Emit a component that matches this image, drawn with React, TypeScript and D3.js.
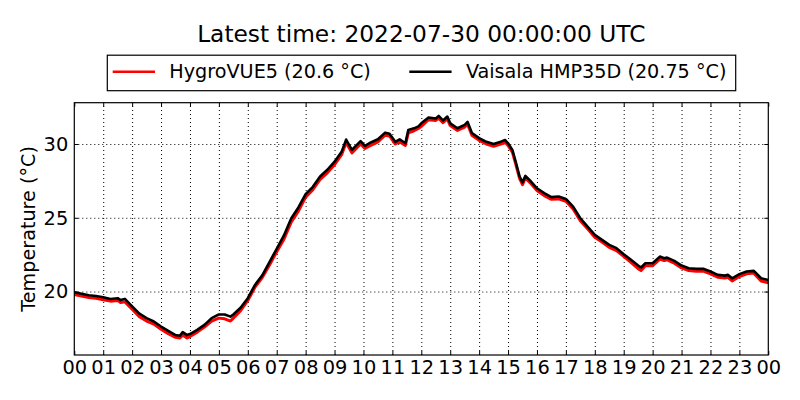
import { useEffect, useRef } from 'react';
import * as d3 from 'd3';

// hours since 00:00 UTC
const hours = [
  0, 0.25, 0.5, 0.75, 1.0, 1.25, 1.5, 1.6, 1.75, 2.0, 2.25, 2.5, 2.75, 3.0, 3.25, 3.5, 3.65, 3.75, 3.9, 4.0,
  4.25, 4.5, 4.75, 5.0, 5.2, 5.4, 5.5, 5.75, 6.0, 6.25, 6.5, 6.75, 7.0, 7.25, 7.5, 7.75, 8.0,
  8.25, 8.5, 8.75, 9.0, 9.25, 9.4, 9.6, 9.9, 10.05, 10.2, 10.5, 10.75, 10.9, 11.1, 11.25, 11.45, 11.55, 11.75, 11.9, 12.0,
  12.25, 12.5, 12.6, 12.75, 12.9, 13.0, 13.25, 13.5, 13.6, 13.75, 14.0, 14.25, 14.5, 14.75, 14.9, 15.0,
  15.15, 15.25, 15.4, 15.5, 15.6, 15.75, 16.0, 16.25, 16.5, 16.75, 17.0, 17.25, 17.5, 17.75, 18.0,
  18.25, 18.5, 18.75, 19.0, 19.25, 19.5, 19.6, 19.75, 20.0, 20.25, 20.4, 20.5, 20.75, 21.0,
  21.25, 21.5, 21.75, 22.0, 22.25, 22.5, 22.6, 22.75, 23.0, 23.25, 23.5, 23.75, 24.0,
];

const vaisala = [
  19.95, 19.85, 19.75, 19.7, 19.62, 19.5, 19.55, 19.42, 19.5, 19.0, 18.5, 18.2, 17.97, 17.63, 17.34, 17.05, 17.0, 17.25, 17.05, 17.12,
  17.4, 17.74, 18.2, 18.45, 18.45, 18.3, 18.45, 18.9, 19.55, 20.45, 21.1, 22.0, 22.9, 23.8, 24.95, 25.7, 26.6,
  27.1, 27.8, 28.25, 28.8, 29.5, 30.3, 29.6, 30.2, 29.87, 30.05, 30.32, 30.77, 30.7, 30.15, 30.32, 30.05, 30.95, 31.06, 31.2, 31.4,
  31.8, 31.73, 31.9, 31.6, 31.86, 31.4, 31.07, 31.3, 31.5, 30.75, 30.4, 30.15, 30.0, 30.16, 30.27, 30.05,
  29.6, 28.9, 27.8, 27.4, 27.84, 27.55, 27.0, 26.67, 26.4, 26.44, 26.28, 25.76, 24.97, 24.4, 23.84,
  23.5, 23.16, 22.94, 22.53, 22.15, 21.76, 21.63, 21.92, 21.92, 22.37, 22.26, 22.3, 22.08, 21.76,
  21.58, 21.54, 21.54, 21.36, 21.13, 21.08, 21.13, 20.9, 21.18, 21.36, 21.4, 20.9, 20.78,
];

const hygrovue = [
  19.8, 19.7, 19.6, 19.55, 19.45, 19.35, 19.4, 19.25, 19.3, 18.8, 18.3, 18.0, 17.8, 17.45, 17.15, 16.9, 16.85, 17.05, 16.85, 16.95,
  17.25, 17.6, 18.0, 18.2, 18.15, 18.0, 18.2, 18.7, 19.4, 20.3, 20.95, 21.8, 22.7, 23.55, 24.7, 25.45, 26.4,
  26.9, 27.6, 28.05, 28.6, 29.3, 30.1, 29.4, 30.0, 29.7, 29.85, 30.15, 30.6, 30.55, 30.0, 30.15, 29.9, 30.75, 30.9, 31.05, 31.2,
  31.65, 31.6, 31.75, 31.45, 31.7, 31.25, 30.92, 31.15, 31.35, 30.6, 30.25, 30.0, 29.85, 30.0, 30.1, 29.9,
  29.45, 28.75, 27.65, 27.25, 27.7, 27.4, 26.85, 26.5, 26.25, 26.28, 26.12, 25.6, 24.8, 24.25, 23.68,
  23.35, 23.0, 22.78, 22.38, 21.98, 21.55, 21.42, 21.75, 21.75, 22.2, 22.1, 22.15, 21.92, 21.6,
  21.42, 21.38, 21.38, 21.2, 20.97, 20.92, 20.97, 20.72, 21.02, 21.2, 21.25, 20.72, 20.6,
];

const hourTicks = d3.range(0, 25);
const tempTicks = [20, 25, 30];

const seriesDefs = [
  { name: 'HygroVUE5 (20.6 °C)', color: '#ff0000', values: hygrovue, width: 3 },
  { name: 'Vaisala HMP35D (20.75 °C)', color: '#000000', values: vaisala, width: 2.6 },
];

const margin = { top: 102.7, right: 31.7, bottom: 45, left: 74.3 };
const width = 800;
const height = 400;
const font = 'DejaVu Sans, sans-serif';

export default function App() {
  const svgRef = useRef<SVGSVGElement>(null);

  useEffect(() => {
    if (!svgRef.current) return;
    const svg = d3.select(svgRef.current);
    svg.selectAll('*').remove();

    const innerWidth = width - margin.left - margin.right;
    const innerHeight = height - margin.top - margin.bottom;

    const x = d3.scaleLinear().domain([0, 24]).range([0, innerWidth]);
    const y = d3.scaleLinear().domain([15.7, 32.8]).range([innerHeight, 0]);

    svg.append('rect').attr('width', width).attr('height', height).attr('fill', '#fff');

    // title
    svg
      .append('text')
      .attr('x', margin.left + innerWidth / 2)
      .attr('y', 42.3)
      .attr('text-anchor', 'middle')
      .attr('font-family', font)
      .attr('font-size', 23.3)
      .text('Latest time: 2022-07-30 00:00:00 UTC');

    const g = svg.append('g').attr('transform', `translate(${margin.left},${margin.top})`);

    // grid
    const xGrid = g
      .append('g')
      .attr('transform', `translate(0,${innerHeight})`)
      .call(d3.axisBottom(x).tickValues(hourTicks.slice(1, -1)).tickSize(-innerHeight).tickFormat(() => ''));
    xGrid.select('.domain').remove();
    xGrid.selectAll('line').attr('stroke', '#000').attr('stroke-width', 1).attr('stroke-dasharray', '1 3');

    const yGrid = g
      .append('g')
      .call(d3.axisLeft(y).tickValues(tempTicks).tickSize(-innerWidth).tickFormat(() => ''));
    yGrid.select('.domain').remove();
    yGrid.selectAll('line').attr('stroke', '#000').attr('stroke-width', 1).attr('stroke-dasharray', '1 3');

    // lines
    const line = d3
      .line<number>()
      .x((_, i) => x(hours[i]))
      .y((d) => y(d));

    seriesDefs.forEach((s) => {
      g.append('path')
        .datum(s.values)
        .attr('fill', 'none')
        .attr('stroke', s.color)
        .attr('stroke-width', s.width)
        .attr('stroke-linejoin', 'round')
        .attr('d', line);
    });

    // frame
    g.append('rect')
      .attr('width', innerWidth)
      .attr('height', innerHeight)
      .attr('fill', 'none')
      .attr('stroke', '#000')
      .attr('stroke-width', 1.2);

    // axes with inward ticks
    const xAxis = g
      .append('g')
      .attr('transform', `translate(0,${innerHeight})`)
      .call(
        d3
          .axisBottom(x)
          .tickValues(hourTicks)
          .tickSize(-4)
          .tickPadding(5.5)
          .tickFormat((d) => String((d as number) % 24).padStart(2, '0'))
      );
    xAxis.select('.domain').remove();
    xAxis.selectAll('text').attr('font-family', font).attr('font-size', 19.4).attr('fill', '#000');

    const yAxis = g
      .append('g')
      .call(d3.axisLeft(y).tickValues(tempTicks).tickSize(-4).tickPadding(6).tickFormat(d3.format('d')));
    yAxis.select('.domain').remove();
    yAxis.selectAll('text').attr('font-family', font).attr('font-size', 19.4).attr('fill', '#000');

    g.append('g')
      .call(d3.axisTop(x).tickValues(hourTicks).tickSize(-4).tickFormat(() => ''))
      .select('.domain')
      .remove();
    g.append('g')
      .attr('transform', `translate(${innerWidth},0)`)
      .call(d3.axisRight(y).tickValues(tempTicks).tickSize(-4).tickFormat(() => ''))
      .select('.domain')
      .remove();

    // y label
    svg
      .append('text')
      .attr('transform', `translate(35,${margin.top + innerHeight / 2}) rotate(-90)`)
      .attr('text-anchor', 'middle')
      .attr('font-family', font)
      .attr('font-size', 19.2)
      .text('Temperature (°C)');

    // legend
    const legend = svg.append('g');
    legend
      .append('rect')
      .attr('x', 107.3)
      .attr('y', 55.2)
      .attr('width', 628.4)
      .attr('height', 35.5)
      .attr('fill', '#fff')
      .attr('stroke', '#000')
      .attr('stroke-width', 1.2);
    const legendX = [112.7, 409.3];
    seriesDefs.forEach((s, i) => {
      const lg = legend.append('g').attr('transform', `translate(${legendX[i]},71.7)`);
      lg.append('line').attr('x1', 0).attr('x2', 42.3).attr('stroke', s.color).attr('stroke-width', 2.6);
      lg.append('text')
        .attr('x', 56.6)
        .attr('y', 6.6)
        .attr('font-family', font)
        .attr('font-size', 19.2)
        .text(s.name);
    });
  }, []);

  return (
    <svg
      ref={svgRef}
      width={width}
      height={height}
      style={{ position: 'absolute', left: 0, top: 0, display: 'block' }}
    />
  );
}
